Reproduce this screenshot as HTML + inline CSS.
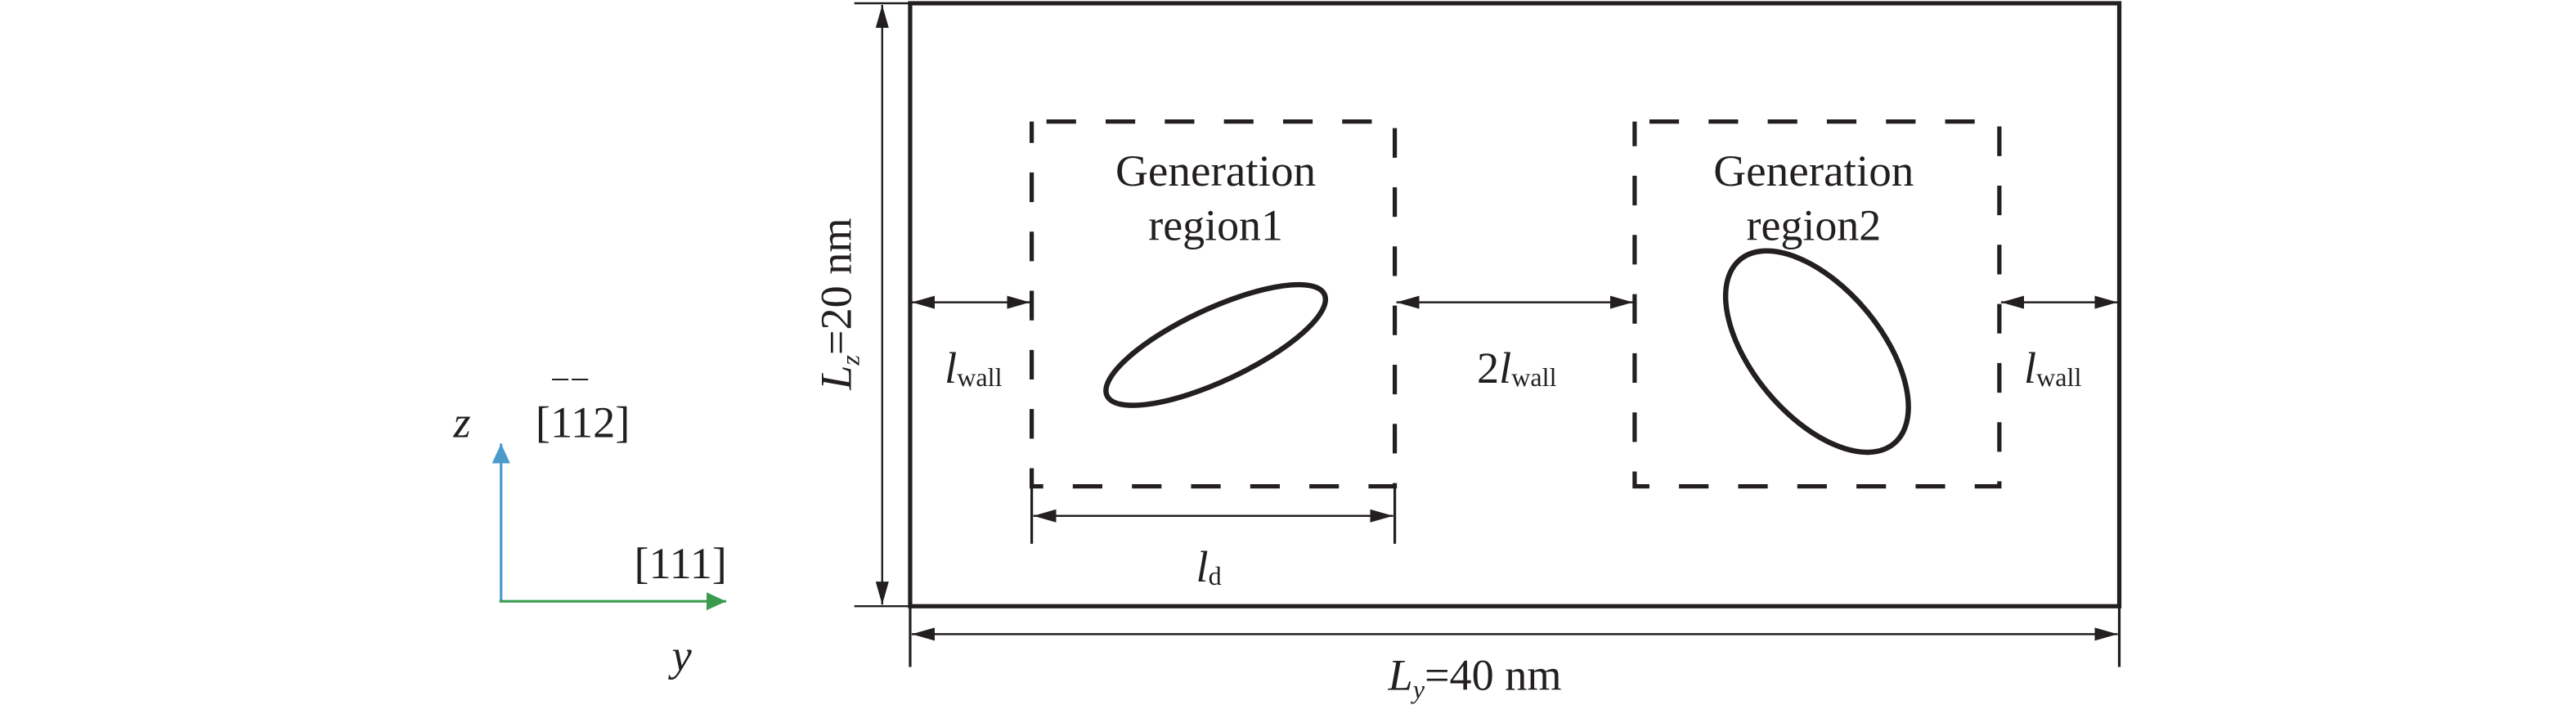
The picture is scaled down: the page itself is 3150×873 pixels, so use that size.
<!DOCTYPE html>
<html><head><meta charset="utf-8"><style>
html,body{margin:0;padding:0;background:#fff;width:3150px;height:873px;overflow:hidden}
svg{display:block}
text{font-family:"Liberation Serif",serif;fill:#231f20}
</style></head><body>
<svg width="3150" height="873" viewBox="0 0 1568 434.6" preserveAspectRatio="none" xmlns="http://www.w3.org/2000/svg">
<defs>
<marker id="a" markerWidth="14" markerHeight="8" refX="14" refY="4" orient="auto-start-reverse" markerUnits="userSpaceOnUse"><path d="M0,0 L14,4 L0,8Z" fill="#231f20"/></marker>
<marker id="b" markerWidth="12" markerHeight="11" refX="12" refY="5.5" orient="auto" markerUnits="userSpaceOnUse"><path d="M0,0 L12,5.5 L0,11Z" fill="#4a9acb"/></marker>
<marker id="g" markerWidth="12" markerHeight="11" refX="12" refY="5.5" orient="auto" markerUnits="userSpaceOnUse"><path d="M0,0 L12,5.5 L0,11Z" fill="#3a9b4e"/></marker>
</defs>
<g stroke="#231f20" fill="none">
<rect x="554" y="2" width="736" height="367" stroke-width="2.6"/>
<line x1="520" y1="2" x2="554" y2="2" stroke-width="1.2"/>
<line x1="520" y1="369" x2="554" y2="369" stroke-width="1.2"/>
<line x1="554" y1="369" x2="554" y2="406" stroke-width="1.6"/>
<line x1="1290" y1="369" x2="1290" y2="406" stroke-width="1.6"/>
<line x1="537" y1="3" x2="537" y2="368" stroke-width="1.2" marker-start="url(#a)" marker-end="url(#a)"/>
<line x1="555" y1="386" x2="1289" y2="386" stroke-width="1.2" marker-start="url(#a)" marker-end="url(#a)"/>
<rect x="628" y="74" width="221" height="222" stroke-width="2.6" stroke-dasharray="18,18" stroke-dashoffset="-9"/>
<rect x="995" y="74" width="222" height="222" stroke-width="2.6" stroke-dasharray="18,18" stroke-dashoffset="-9"/>
<line x1="628" y1="296" x2="628" y2="331" stroke-width="1.6"/>
<line x1="849" y1="296" x2="849" y2="331" stroke-width="1.6"/>
<line x1="629" y1="314" x2="848" y2="314" stroke-width="1.2" marker-start="url(#a)" marker-end="url(#a)"/>
<line x1="555" y1="184" x2="627" y2="184" stroke-width="1.2" marker-start="url(#a)" marker-end="url(#a)"/>
<line x1="850" y1="184" x2="994" y2="184" stroke-width="1.2" marker-start="url(#a)" marker-end="url(#a)"/>
<line x1="1218" y1="184" x2="1289" y2="184" stroke-width="1.2" marker-start="url(#a)" marker-end="url(#a)"/>
<ellipse cx="740" cy="210" rx="73" ry="22" transform="rotate(-25 740 210)" stroke-width="3.2"/>
<ellipse cx="1106" cy="214" rx="73" ry="39" transform="rotate(50 1106 214)" stroke-width="3.2"/>
<line x1="305" y1="366" x2="305" y2="270" stroke="#4a9acb" stroke-width="1.6" marker-end="url(#b)"/>
<line x1="304" y1="366" x2="442" y2="366" stroke="#3a9b4e" stroke-width="1.6" marker-end="url(#g)"/>
<line x1="336" y1="231" x2="346" y2="231" stroke-width="1"/>
<line x1="348" y1="231" x2="358" y2="231" stroke-width="1"/>
</g>
<g font-size="27">
<text x="740" y="113" text-anchor="middle" textLength="122" lengthAdjust="spacingAndGlyphs">Generation</text>
<text x="740" y="146" text-anchor="middle" textLength="82" lengthAdjust="spacingAndGlyphs">region1</text>
<text x="1104" y="113" text-anchor="middle" textLength="122" lengthAdjust="spacingAndGlyphs">Generation</text>
<text x="1104" y="146" text-anchor="middle" textLength="82" lengthAdjust="spacingAndGlyphs">region2</text>
<text x="575" y="233"><tspan font-style="italic">l</tspan><tspan font-size="16" dy="2">wall</tspan></text>
<text x="899" y="233">2<tspan font-style="italic">l</tspan><tspan font-size="16" dy="2">wall</tspan></text>
<text x="1232" y="233"><tspan font-style="italic">l</tspan><tspan font-size="16" dy="2">wall</tspan></text>
<text x="728" y="354"><tspan font-style="italic">l</tspan><tspan font-size="16" dy="2">d</tspan></text>
<text x="845" y="420"><tspan font-style="italic">L</tspan><tspan font-size="16" font-style="italic" dy="5">y</tspan><tspan dy="-5">=40 nm</tspan></text>
<text transform="translate(518 185) rotate(-90)" text-anchor="middle"><tspan font-style="italic">L</tspan><tspan font-size="16" font-style="italic" dy="5">z</tspan><tspan dy="-5">=20 nm</tspan></text>
<text x="276" y="266" font-style="italic">z</text>
<text x="326" y="266">[112]</text>
<text x="386" y="352">[111]</text>
<text x="409" y="408" font-style="italic">y</text>
</g>
</svg>
</body></html>
